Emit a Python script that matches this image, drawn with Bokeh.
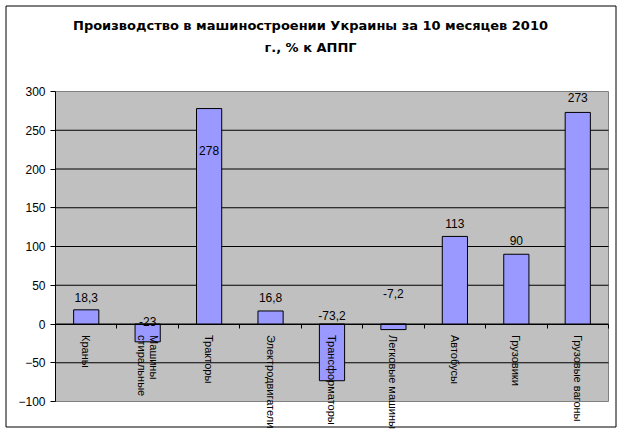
import math
from bokeh.plotting import figure
from bokeh.models import (Range1d, FixedTicker, LinearAxis, Label, BoxAnnotation,
                          ColumnDataSource)
from bokeh.core.properties import value
from bokeh.embed import file_html
from bokeh.resources import INLINE

# ---- data ----
categories = ["Краны", "Машины\nстиральные", "Тракторы", "Электродвигатели",
              "Трансформаторы", "Легковые машины", "Автобусы", "Грузовики",
              "Грузовые вагоны"]
values = [18.3, -23, 278, 16.8, -73.2, -7.2, 113, 90, 273]
y_ticks = [-100, -50, 0, 50, 100, 150, 200, 250, 300]
title_lines = ["Производство в машиностроении Украины за 10 месяцев 2010",
               "г., % к АППГ"]

# ---- layout constants (pixels) ----
W, H = 620, 430
PX_L, PX_R, PX_T, PX_B = 55, 608, 91, 401
n = len(categories)
ymin, ymax = y_ticks[0], y_ticks[-1]
sx = (PX_R - PX_L) / n
sy = (PX_B - PX_T) / (ymax - ymin)

# pixel offsets of the value labels (style), relative to max(v,0); + = up
label_dy_px = [12, 3, -42, 13, 9, 31, 12.6, 14, 15]

FONT = "Liberation Sans"

p = figure(width=W, height=H, output_backend="svg", toolbar_location=None,
           x_range=Range1d(-PX_L / sx, n + (W - PX_R) / sx),
           y_range=Range1d(ymin - (H - PX_B) / sy, ymax + PX_T / sy),
           x_axis_location=None, y_axis_location=None,
           min_border=0, min_border_left=0, min_border_right=0,
           min_border_top=0, min_border_bottom=0,
           background_fill_color="white", border_fill_color="white")
p.outline_line_color = None
p.grid.visible = False

# plot area
p.quad(left=0, right=n, bottom=ymin, top=ymax, fill_color="#C0C0C0",
       line_color="#808080", line_width=1)

# horizontal grid lines
grid_vals = y_ticks[1:-1]
p.segment(x0=[0] * len(grid_vals), x1=[n] * len(grid_vals), y0=grid_vals,
          y1=grid_vals, line_color="black", line_width=1)

xs = [i + 0.5 for i in range(n)]
src = ColumnDataSource(dict(
    x=xs, top=values,
    lab=[f"{v:g}".replace(".", ",") for v in values],
    ly=[max(v, 0) + d / sy for v, d in zip(values, label_dy_px)],
))

p.vbar(x="x", top="top", bottom=0, width=0.41, source=src,
       fill_color="#9999FF", line_color="black", line_width=1)

p.text(x="x", y="ly", text="lab", source=src, text_align="center",
       text_baseline="middle", text_font=value(FONT), text_font_size="12px",
       text_color="black")

# y axis at the left edge of the plot area
yax = LinearAxis(ticker=FixedTicker(ticks=y_ticks), fixed_location=0,
                 bounds=(ymin, ymax))
yax.axis_line_color = "black"
yax.major_tick_line_color = "black"
yax.major_tick_out = 5
yax.major_tick_in = 0
yax.minor_tick_line_color = None
yax.major_label_standoff = 5
yax.major_label_text_font = FONT
yax.major_label_text_font_size = "12px"
yax.major_label_text_color = "black"
p.add_layout(yax, "left")

# category axis along zero
xax = LinearAxis(ticker=FixedTicker(ticks=xs, minor_ticks=list(range(n + 1))),
                 fixed_location=0, bounds=(0, n))
xax.major_label_overrides = {x: c for x, c in zip(xs, categories)}
xax.major_label_orientation = -math.pi / 2
xax.axis_line_color = "black"
xax.major_tick_line_color = None
xax.major_tick_out = 0
xax.major_tick_in = 0
xax.minor_tick_line_color = "black"
xax.minor_tick_out = 4
xax.minor_tick_in = 0
xax.major_label_standoff = 7
xax.major_label_text_font = FONT
xax.major_label_text_font_size = "11px"
xax.major_label_text_color = "black"
xax.major_label_text_line_height = 1.0
p.add_layout(xax, "below")

# title
for i, t in enumerate(title_lines):
    p.add_layout(Label(x=310, y=25 + 22 * i, x_units="canvas",
                       y_units="canvas", text=t, text_align="center",
                       text_baseline="middle", text_font="DejaVu Sans",
                       text_font_size="13px", text_font_style="bold",
                       text_color="black"))

# chart border
p.add_layout(BoxAnnotation(left=5.5, right=615.5, bottom=426.5, top=5.5,
                           left_units="canvas", right_units="canvas",
                           bottom_units="canvas", top_units="canvas",
                           fill_alpha=0, line_color="black", line_width=1,
                           line_alpha=1))

open("out.html", "w").write(file_html(p, INLINE))
